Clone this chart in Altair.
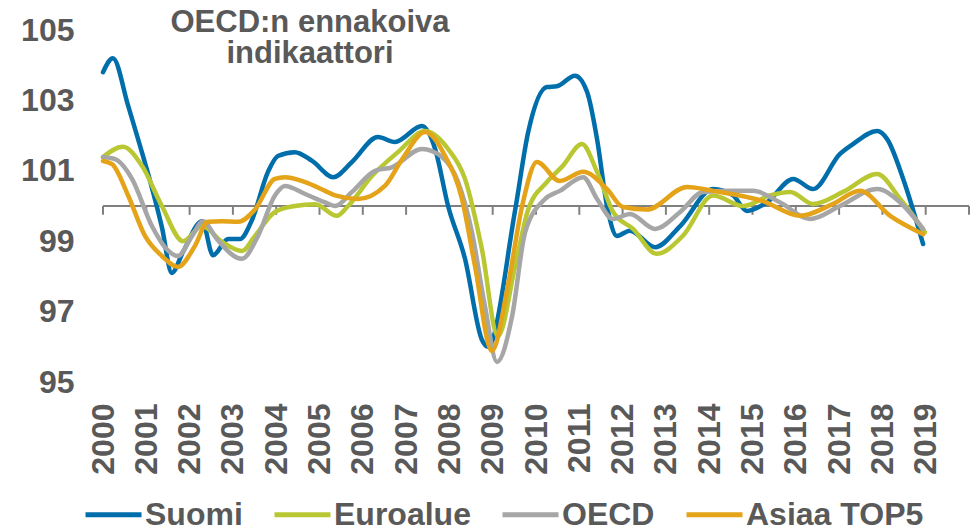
import altair as alt
import pandas as pd

series_names = ["Suomi", "Euroalue", "OECD", "Asiaa TOP5"]
series_colors = ["#006EAA", "#B9C832", "#A6A6A6", "#E4A318"]

suomi_t = [2000.00, 2000.23, 2000.58, 2000.81, 2001.09, 2001.36, 2001.59, 2001.85, 2002.29, 2002.54,
           2002.89, 2003.16, 2003.44, 2003.81, 2004.04, 2004.43, 2004.83, 2005.32, 2005.75, 2006.35,
           2006.74, 2007.37, 2007.67, 2007.97, 2008.36, 2008.75, 2008.89, 2009.52, 2009.82, 2010.25,
           2010.48, 2010.90, 2011.18, 2011.41, 2011.64, 2011.87, 2012.17, 2012.75, 2013.33, 2014.09,
           2014.55, 2014.87, 2015.33, 2015.94, 2016.40, 2017.02, 2017.32, 2017.88, 2018.11, 2018.48,
           2018.94]
suomi_v = [103.8, 104.2, 102.85, 101.9, 100.7, 99.4, 98.1, 98.7, 99.57, 98.6,
           99.06, 99.06, 99.6, 100.97, 101.42, 101.53, 101.28, 100.82, 101.25, 101.96,
           101.82, 102.27, 101.62, 100.0, 98.5, 96.2, 96.0, 99.9, 102.1, 103.38,
           103.4, 103.7, 103.24, 101.9, 100.0, 99.15, 99.3, 98.83, 99.43, 100.48,
           100.3, 99.86, 100.1, 100.77, 100.48, 101.48, 101.76, 102.13, 101.9, 100.77,
           98.92]

euro_t = [2000.00, 2000.46, 2000.90, 2001.36, 2001.85, 2002.29, 2002.75, 2003.21, 2003.51, 2003.97,
          2004.43, 2004.90, 2005.40, 2005.66, 2006.21, 2006.81, 2007.44, 2007.97, 2008.36, 2008.75,
          2009.12, 2009.52, 2009.82, 2010.25, 2010.62, 2011.06, 2011.41, 2011.78, 2012.24, 2012.79,
          2013.39, 2014.09, 2014.78, 2015.40, 2015.87, 2016.40, 2017.09, 2017.88, 2018.41, 2018.98]
euro_v = [101.39, 101.68, 101.14, 100.0, 99.0, 99.43, 98.98, 98.72, 99.15, 99.83,
          100.0, 100.05, 99.72, 100.0, 100.85, 101.53, 102.13, 101.62, 100.77, 98.78,
          96.3, 98.3, 99.9, 100.68, 101.14, 101.76, 100.97, 99.83, 99.35, 98.64,
          99.15, 100.3, 100.0, 100.3, 100.4, 100.06, 100.4, 100.91, 100.2, 99.26]

oecd_t = [2000.00, 2000.28, 2000.67, 2001.13, 2001.43, 2001.73, 2002.06, 2002.31, 2002.63, 2003.21,
          2003.58, 2003.97, 2004.20, 2004.67, 2005.13, 2005.36, 2005.75, 2006.28, 2006.67, 2007.37,
          2007.83, 2008.20, 2008.52, 2008.82, 2009.10, 2009.45, 2009.75, 2010.21, 2010.55, 2011.09,
          2011.41, 2011.78, 2012.17, 2012.75, 2013.33, 2013.86, 2014.55, 2015.01, 2015.64, 2016.33,
          2017.02, 2017.88, 2018.41, 2018.94]
oecd_v = [101.39, 101.33, 100.77, 99.43, 98.83, 98.58, 99.15, 99.57, 99.06, 98.5,
          99.15, 100.3, 100.57, 100.34, 100.1, 100.0, 100.4, 101.0, 101.1, 101.62,
          101.39, 100.68, 99.26, 97.16, 95.57, 96.88, 99.26, 100.2, 100.43, 100.82,
          100.2, 99.63, 99.77, 99.35, 99.83, 100.4, 100.43, 100.43, 100.1, 99.63,
          100.0, 100.48, 100.1, 99.35]

asia_t = [2000.00, 2000.21, 2000.58, 2000.97, 2001.36, 2001.73, 2002.12, 2002.42, 2002.75, 2003.12,
          2003.51, 2003.97, 2004.20, 2004.67, 2005.13, 2005.36, 2005.89, 2006.51, 2006.91, 2007.44,
          2007.90, 2008.29, 2008.59, 2008.98, 2009.35, 2009.68, 2010.02, 2010.55, 2011.09, 2011.64,
          2012.01, 2012.56, 2013.49, 2014.09, 2015.24, 2016.10, 2016.86, 2017.48, 2018.18, 2018.94]
asia_v = [101.28, 101.19, 100.3, 99.15, 98.58, 98.27, 98.86, 99.55, 99.57, 99.55,
          99.9, 100.77, 100.82, 100.68, 100.43, 100.3, 100.2, 100.57, 101.33, 102.1,
          101.42, 100.2, 98.3, 95.88, 97.73, 100.0, 101.25, 100.71, 100.97, 100.48,
          99.97, 99.9, 100.54, 100.43, 100.14, 99.72, 100.06, 100.43, 99.72, 99.2]

tick_years = list(range(2000, 2021))
label_years = list(range(2000, 2020))
y_labels = [95, 97, 99, 101, 103, 105]
title_lines = ["OECD:n ennakoiva", "indikaattori"]

rows = []
for name, ts, vs in zip(series_names, [suomi_t, euro_t, oecd_t, asia_t],
                        [suomi_v, euro_v, oecd_v, asia_v]):
    for t, v in zip(ts, vs):
        rows.append({"series": name, "t": t, "v": v})
df = pd.DataFrame(rows)

FONT = "Liberation Sans"
GRAY = "#595959"
AXIS_GRAY = "#808080"

x_scale = alt.Scale(domain=[2000, 2020], nice=False, zero=False)
y_scale = alt.Scale(domain=[95, 105], nice=False, zero=False)

x_axis = alt.Axis(values=label_years, format="d", labelAngle=-90, title=None,
                  domain=False, ticks=False, tickSize=0, grid=False,
                  labelPadding=21, labelFlush=False, labelOverlap=False)
y_axis = alt.Axis(values=y_labels, format="d", title=None, domain=False,
                  ticks=False, tickSize=0, grid=False, labelPadding=29)

legend = alt.Legend(orient="none", legendX=-20, legendY=454, direction="horizontal",
                    title=None, symbolType="stroke", symbolSize=3136, symbolStrokeWidth=5,
                    labelFontSize=32, labelFont=FONT, labelFontWeight="bold",
                    labelColor=GRAY, columnPadding=21, labelOffset=1, padding=0,
                    labelLimit=400)

color_enc = alt.Color("series:N", scale=alt.Scale(domain=series_names, range=series_colors),
                      legend=legend)

base_line = alt.Chart(df)
line_layers = []
for name in series_names:
    line_layers.append(
        base_line.transform_filter(alt.datum.series == name)
        .mark_line(strokeWidth=4.5, interpolate="monotone", strokeCap="round",
                   strokeJoin="round", clip=False)
        .encode(x=alt.X("t:Q", scale=x_scale, axis=x_axis),
                y=alt.Y("v:Q", scale=y_scale, axis=y_axis),
                color=color_enc)
    )

baseline_rule = alt.Chart(pd.DataFrame({"t": [2000], "t2": [2020]})).mark_rule(
    color=AXIS_GRAY, strokeWidth=2).encode(
    x=alt.X("t:Q", scale=x_scale, axis=x_axis), x2="t2:Q", y=alt.datum(100))

tick_rules = alt.Chart(pd.DataFrame({"t": tick_years})).mark_rule(
    color=AXIS_GRAY, strokeWidth=2).encode(
    x=alt.X("t:Q", scale=x_scale, axis=x_axis), y=alt.datum(100), y2=alt.datum(99.75))

title_text = alt.Chart(pd.DataFrame({"k": [0]})).mark_text(
    text=title_lines, fontSize=31, font=FONT, fontWeight="bold", color=GRAY,
    align="center", baseline="alphabetic", lineHeight=31).encode(
    x=alt.value(207), y=alt.value(2))

chart = alt.layer(baseline_rule, tick_rules, *line_layers, title_text).properties(
    width=866, height=352,
    autosize=alt.AutoSizeParams(type="none"),
    padding={"left": 95, "top": 22, "right": 1, "bottom": 160},
).configure_view(stroke=None).configure_axis(
    labelFont=FONT, labelFontSize=32, labelFontWeight="bold", labelColor=GRAY
)

chart.save("out.html", embed_options={"renderer": "svg", "actions": False})
